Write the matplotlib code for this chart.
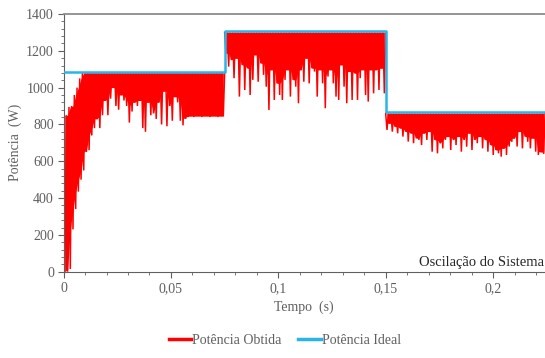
import numpy as np
import matplotlib.pyplot as plt
from matplotlib.lines import Line2D
from matplotlib.ticker import MultipleLocator, FuncFormatter

plt.rcParams['font.family'] = ['Liberation Serif', 'DejaVu Serif']

# potência ideal (degraus)
ideal_t = [0.0, 0.075, 0.075, 0.15, 0.15, 0.2242]
ideal_p = [1085, 1085, 1305, 1305, 865, 865]

# limites de cada trecho da potência obtida
seg_bounds = [(0.0, 0.075), (0.075, 0.15), (0.15, 0.2242)]

# picos e vales
peaks1 = [850, 850, 895, 900, 960, 1000, 1050] + [1080] * 53
troughs1 = [0, 0, 15, 230, 340, 435, 500, 550, 650, 660, 740, 780, 830, 780, 850,
            930, 850, 940, 1000, 900, 880, 960, 930, 900, 810, 870, 920, 900, 930, 780,
            760, 920, 850, 860, 830, 920, 800, 980, 790, 900, 820, 950, 920, 820, 795,
            830, 840, 845, 840, 845, 845, 840, 845, 845, 840, 845, 845, 840, 845, 845]

peaks2 = [1300] * 60
troughs2 = [1186, 1114, 1150, 1051, 1159, 951, 1123, 987, 1105, 960, 1042, 1177, 1032, 1132, 1069,
            1005, 878, 1096, 933, 1023, 960, 933, 1042, 1096, 951, 1042, 1005, 915, 1096, 1032,
            1159, 1023, 1105, 1087, 951, 1096, 1023, 888, 1060, 1096, 1023, 951, 933, 1123, 1005,
            915, 1087, 933, 1078, 933, 1051, 1096, 960, 924, 1096, 969, 1096, 987, 1105, 969]

peaks3 = [860] * 60
troughs3 = [770, 806, 761, 788, 752, 779, 734, 761, 707, 752, 698, 725, 716, 688, 752,
            716, 761, 652, 716, 643, 698, 670, 716, 734, 661, 716, 688, 734, 652, 716,
            679, 752, 661, 716, 698, 734, 670, 716, 652, 688, 634, 661, 643, 625, 670,
            634, 680, 706, 725, 680, 761, 670, 734, 706, 670, 725, 652, 634, 650, 640]

segments = [(peaks1, troughs1), (peaks2, troughs2), (peaks3, troughs3)]

fig = plt.figure(figsize=(5.45, 3.58), dpi=100)
ax = fig.add_axes([0.1167, 0.241, 0.8833, 0.72])

red = '#ff0000'
blue = '#29b5e8'
gray = '#5f5f5f'

# sinal oscilante: pico -> vale -> pico ..., com faixa sólida até o vale mais raso vizinho
for (t0, t1), (pk, tr) in zip(seg_bounds, segments):
    pk = np.array(pk, float)
    tr = np.array(tr, float)
    n = len(tr)
    ts = np.linspace(t0, t1, n + 1)
    dt = ts[1] - ts[0]
    tz = np.column_stack([ts[:-1], ts[:-1] + dt / 2]).ravel()
    pz = np.column_stack([pk, tr]).ravel()
    tz = np.append(tz, t1)
    pz = np.append(pz, pk[-1])
    ax.plot(tz, pz, color=red, lw=1.1, zorder=2, solid_joinstyle='miter')
    padded = np.concatenate([[tr[0]], tr, [tr[-1]]])
    floor = np.max([padded[:-2], padded[1:-1], padded[2:]], axis=0)
    floor = np.minimum(floor, pk)
    ax.fill_between(ts[:-1] + dt / 2, floor, pk, color=red, lw=0, zorder=2)

ax.plot(ideal_t, ideal_p, color=blue, lw=1.8, zorder=3)

ax.set_xlim(0, 0.2242)
ax.set_ylim(0, 1400)

ax.xaxis.set_major_locator(MultipleLocator(0.05))
ax.xaxis.set_minor_locator(MultipleLocator(0.01))
ax.yaxis.set_major_locator(MultipleLocator(200))
ax.yaxis.set_minor_locator(MultipleLocator(40))
ax.xaxis.set_major_formatter(FuncFormatter(lambda v, p: ('%g' % round(v, 3)).replace('.', ',')))

ax.tick_params(which='both', direction='out', colors=gray, labelsize=10)
ax.tick_params(which='major', length=4)
ax.tick_params(which='minor', length=2.5)
ax.tick_params(axis='y', pad=3)

for s in ['left', 'bottom']:
    ax.spines[s].set_color(gray)
ax.spines['top'].set_color('#8c8c8c')
ax.spines['top'].set_linewidth(1.3)
ax.spines['right'].set_visible(False)

ax.set_ylabel('Potência  (W)', color=gray, fontsize=10, labelpad=3)
ax.set_xlabel('Tempo  (s)', color=gray, fontsize=10, labelpad=4)

ax.text(0.997, 0.012, 'Oscilação do Sistema', transform=ax.transAxes,
        ha='right', va='bottom', fontsize=10.5, color='#262626')

handles = [Line2D([], [], color=red, lw=2.5), Line2D([], [], color=blue, lw=2.5)]
fig.legend(handles, ['Potência Obtida', 'Potência Ideal'], loc='center',
           bbox_to_anchor=(0.523, 0.05), ncol=2, frameon=False, fontsize=10,
           labelcolor=gray, handlelength=1.6, handletextpad=0.1, columnspacing=1.2)

fig.savefig('out.png', dpi=100)
